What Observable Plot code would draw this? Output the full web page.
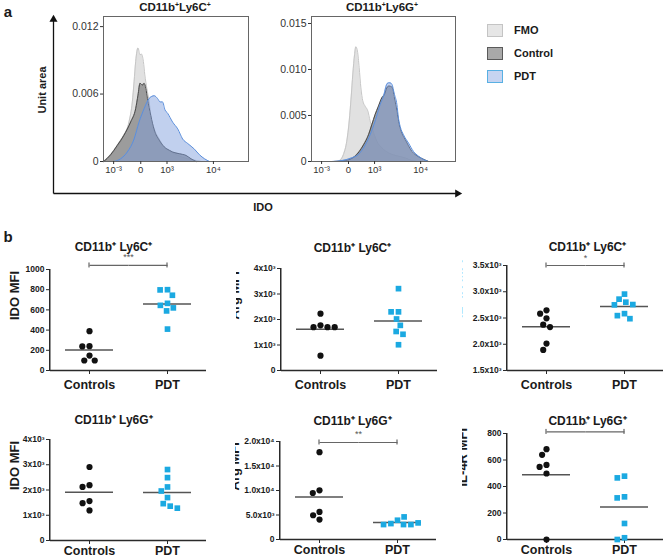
<!DOCTYPE html>
<html><head><meta charset="utf-8">
<script src="https://cdn.jsdelivr.net/npm/d3@7"></script>
<script src="https://cdn.jsdelivr.net/npm/@observablehq/plot@0.6"></script>
<style>
body{margin:0;background:#fff;}
#root{position:relative;width:669px;height:557px;overflow:hidden;font-family:"Liberation Sans",Arial,Helvetica,sans-serif;color:#1a1a1a;}
.lbl{position:absolute;font-weight:bold;white-space:nowrap;line-height:1;}
.rot{transform:translate(-50%,-50%) rotate(-90deg);}
sup{font-size:60%;vertical-align:0.55em;line-height:0;}
.swatch{position:absolute;width:14px;height:11px;border:1px solid;}
</style></head><body><div id="root"></div>
<script>
// ---------- DATA ----------
const categories = ["Controls", "PDT"];
const legendLabels = ["FMO", "Control", "PDT"];
// histogram x axis (display units across the frame) and its tick labels
const histTicks = [7, 25.7, 43.8, 75.8];
const histTickLabels = ["10⁻³", "0", "10³", "10⁴"];
// CD11b+Ly6C+ histograms
const ly6cFmoX = [0.2, 4.9, 9.5, 14.1, 17.6, 19.9, 21.1, 22.2, 23.8, 25.2, 26.2, 27.5, 28.5, 29.9, 31.5, 32.6, 35, 38.4, 41.9, 46.5, 51.2, 58.1, 65, 67.4];
const ly6cFmoY = [0, 0.00054, 0.00128, 0.00233, 0.00352, 0.00531, 0.0071, 0.0089, 0.0101, 0.0095, 0.00955, 0.0089, 0.0077, 0.0065, 0.0053, 0.0041, 0.0029, 0.002, 0.0013, 0.00084, 0.00054, 0.00024, 0.00006, 0];
const ly6cCtrlX = [0.2, 4.9, 9.5, 14.1, 18.75, 22.2, 23.8, 25.2, 26.9, 28, 29.2, 30.3, 32.6, 35, 38.4, 41.9, 45.4, 47.7, 52.3, 56.9, 60.4, 63.9];
const ly6cCtrlY = [0, 0.0006, 0.00143, 0.00233, 0.00352, 0.0047, 0.0059, 0.00696, 0.0068, 0.00696, 0.0065, 0.0056, 0.0041, 0.0028, 0.0019, 0.0013, 0.001, 0.00084, 0.00069, 0.00054, 0.00024, 0];
const ly6cPdtX = [7.2, 11.8, 16.4, 21.1, 24.5, 28, 31.5, 35, 37.3, 39.1, 40.7, 42.4, 44.2, 47.7, 51.2, 54.6, 58.1, 62.7, 66.2, 69.7, 73.1];
const ly6cPdtY = [0, 0.00024, 0.00084, 0.002, 0.0035, 0.0047, 0.0056, 0.00585, 0.0056, 0.0053, 0.0053, 0.0046, 0.0043, 0.0035, 0.0029, 0.002, 0.0016, 0.0011, 0.0006, 0.00024, 0];
// CD11b+Ly6G+ histograms
const ly6gFmoX = [18.75, 22.2, 24.5, 26.2, 27.5, 28.7, 29.9, 30.8, 31.9, 33.1, 34.3, 35.6, 37.3, 39.1, 40.7, 42.4, 45.4, 48.8, 53.5, 60.4, 65, 69.7, 74.3];
const ly6gFmoY = [0, 0.00076, 0.0022, 0.0044, 0.0069, 0.0095, 0.0116, 0.01246, 0.012, 0.0102, 0.008, 0.0066, 0.006, 0.0055, 0.0044, 0.0035, 0.0022, 0.0015, 0.00094, 0.00058, 0.0004, 0.0001, 0];
const ly6gCtrlX = [15.3, 23.4, 30.3, 36.1, 39.6, 41.9, 44.2, 46.5, 48.8, 50.7, 52.3, 53.9, 55.8, 57.6, 59.3, 60.9, 62.7, 65, 67.4, 69.7, 72, 76.6, 81.3];
const ly6gCtrlY = [0, 0.0001, 0.00058, 0.0018, 0.0029, 0.004, 0.0051, 0.006, 0.0069, 0.0073, 0.008, 0.0082, 0.0081, 0.0069, 0.0055, 0.004, 0.0031, 0.0024, 0.0017, 0.0011, 0.00076, 0.00033, 0];
const ly6gPdtX = [14.1, 21.1, 28, 32.6, 37.3, 40.7, 44.2, 47.7, 50, 52.3, 53.5, 54.6, 55.8, 57.6, 59.3, 60.4, 61.6, 63.9, 67.4, 70.8, 74.3, 77.8, 81.3];
const ly6gPdtY = [0, 0.0001, 0.0004, 0.00076, 0.0018, 0.0029, 0.0044, 0.0062, 0.0071, 0.0084, 0.00855, 0.00855, 0.0084, 0.0073, 0.0062, 0.0047, 0.0038, 0.0029, 0.002, 0.0011, 0.00058, 0.00022, 0];
// panel b: MFI values
const idoLy6cControls = [389, 241, 238, 148, 99, 99];
const idoLy6cPdt = [800, 798, 745, 665, 645, 620, 590, 410];
const argLy6cControls = [2230, 1770, 1700, 1700, 1700, 580];
const argLy6cPdt = [3210, 2300, 2300, 2020, 1770, 1530, 1420, 1010];
const il4rLy6cControls = [2647, 2583, 2494, 2372, 2327, 2013, 1891];
const il4rLy6cPdt = [2955, 2859, 2801, 2756, 2750, 2583, 2545, 2487];
const idoLy6gControls = [2910, 2190, 2120, 1560, 1480, 1190];
const idoLy6gPdt = [2810, 2490, 2120, 1960, 1700, 1460, 1360, 1280];
const argLy6gControls = [17830, 10030, 9490, 5630, 4950, 4070];
const argLy6gPdt = [3930, 3250, 3050, 4610, 3050, 3050, 3390];
const il4rLy6gControls = [682, 639, 563, 548, 498, 0];
const il4rLy6gPdt = [478, 465, 322, 314, 121, 13, 0];
// y tick values
const ticksIdoLy6c = [0, 200, 400, 600, 800, 1000];
const ticks4k = [0, 1000, 2000, 3000, 4000];
const ticksIl4rLy6c = [1500, 2000, 2500, 3000, 3500];
const ticksArgLy6g = [0, 5000, 10000, 15000, 20000];
const ticksIl4rLy6g = [0, 200, 400, 600, 800];

// ---------- HELPERS ----------
const FONT = '"Liberation Sans", Arial, Helvetica, sans-serif';
const root = document.getElementById("root");
function put(el, left, top) { el.style.position = "absolute"; el.style.left = left + "px"; el.style.top = top + "px"; root.appendChild(el); return el; }
// centered (or left-aligned) HTML label placed without CSS transforms
function label(html, x, y, size, align = "center") {
  const d = document.createElement("div");
  d.className = "lbl"; d.innerHTML = html; d.style.fontSize = size + "px";
  if (align === "center") { d.style.left = (x - 100) + "px"; d.style.width = "200px"; d.style.textAlign = "center"; }
  else d.style.left = x + "px";
  d.style.top = (y - size * 0.5) + "px";
  root.appendChild(d); return d;
}
const zip = (xs, ys) => xs.map((x, i) => ({x, y: ys[i]}));
const sci = (v) => v === 0 ? "0" : (v / 1000) + "x10³";
const sci1 = (v) => v === 0 ? "0" : (v / 1000).toFixed(1) + "x10³";
const sci5 = (v) => v === 0 ? "0" : (v < 10000 ? (v / 1000).toFixed(1) + "x10³" : (v / 10000).toFixed(1) + "x10⁴");

// ---------- PANEL a ----------
function hist(fmo, ctrl, pdt, yMax, yTicks, ML, MR, width) {
  return Plot.plot({
    width, height: 185, marginLeft: ML, marginRight: MR, marginTop: 16, marginBottom: 24,
    style: {background: "transparent", fontFamily: FONT, color: "#333"},
    x: {domain: [0, 100]},
    y: {domain: [0, yMax]},
    marks: [
      Plot.areaY(fmo, {x: "x", y: "y", fill: "#dcdcdc", fillOpacity: 0.85, curve: "monotone-x"}),
      Plot.lineY(fmo, {x: "x", y: "y", stroke: "#c6c6c6", strokeWidth: 1, curve: "monotone-x"}),
      Plot.areaY(ctrl, {x: "x", y: "y", fill: "#888", fillOpacity: 0.78, curve: "monotone-x"}),
      Plot.lineY(ctrl, {x: "x", y: "y", stroke: "#4a4a4a", strokeWidth: 1, curve: "monotone-x"}),
      Plot.areaY(pdt, {x: "x", y: "y", fill: "#7e9cdc", fillOpacity: 0.48, curve: "monotone-x"}),
      Plot.lineY(pdt, {x: "x", y: "y", stroke: "#5b8fdc", strokeWidth: 1, curve: "monotone-x"}),
      Plot.frame({stroke: "#666", strokeWidth: 1}),
      Plot.axisY({ticks: yTicks, tickFormat: d => d === 0 ? "0" : d3.format(".3f")(d), tickSize: 3, tickPadding: 2, fontSize: 10.5, label: null}),
      Plot.axisX({ticks: histTicks, tickFormat: d => histTickLabels[histTicks.indexOf(d)], tickSize: 3, tickPadding: 2, fontSize: 9.5, label: null})
    ]
  });
}
put(hist(zip(ly6cFmoX, ly6cFmoY), zip(ly6cCtrlX, ly6cCtrlY), zip(ly6cPdtX, ly6cPdtY), 0.0129, [0, 0.006, 0.012], 103, 12, 260), 0, 0);
put(hist(zip(ly6gFmoX, ly6gFmoY), zip(ly6gCtrlX, ly6gCtrlY), zip(ly6gPdtX, ly6gPdtY), 0.01576, [0, 0.005, 0.010, 0.015], 51, 5, 200), 260, 0);

// axis arrows of panel a
const arrows = Plot.plot({
  width: 470, height: 200, marginLeft: 53, marginRight: 13, marginTop: 19, marginBottom: 7,
  x: {domain: [0, 1], axis: null}, y: {domain: [0, 1], axis: null},
  style: {background: "transparent"},
  marks: [
    Plot.link([{x1: 0, y1: 0, x2: 1, y2: 0}, {x1: 0, y1: 0, x2: 0, y2: 1}], {x1: "x1", y1: "y1", x2: "x2", y2: "y2", stroke: "#111", strokeWidth: 1.3}),
    Plot.dot([{x: 1, y: 0, a: 90}, {x: 0, y: 1, a: 0}], {x: "x", y: "y", rotate: "a", symbol: "triangle", r: 3, fill: "#111"})
  ]
});
put(arrows, 0, 0);

label("a", 8, 11, 15);
label("CD11b<sup>+</sup>Ly6C<sup>+</sup>", 175, 8, 11.5);
label("CD11b<sup>+</sup>Ly6G<sup>+</sup>", 382, 8, 11.5);
{
  const u = document.createElement("div");
  u.className = "lbl rot"; u.textContent = "Unit area"; u.style.fontSize = "11px";
  u.style.left = "42px"; u.style.top = "90px"; root.appendChild(u);
}
label("IDO", 263, 207, 11);
const legendFill = ["#e6e6e6", "#a9a9a9", "#c6d4f1"];
const legendStroke = ["#c4c4c4", "#5a5a5a", "#58b0e3"];
legendLabels.forEach((lab, i) => {
  const s = document.createElement("div"); s.className = "swatch";
  s.style.background = legendFill[i]; s.style.borderColor = legendStroke[i];
  put(s, 487, 24 + i * 23);
  label(lab, 514, 30 + i * 23, 11, "left");
});
label("b", 8, 236, 15);

// ---------- PANEL b: scatter plots ----------
function scatter(o) {
  const ctrl = o.c.map(v => ({g: categories[0], v}));
  const pdt = o.p.map(v => ({g: categories[1], v}));
  const all = ctrl.concat(pdt);
  const ML = 45, band = 78, MR = 4;
  const frameH = o.frameBottom - o.frameTop;
  const capHalf = (o.yDomain[1] - o.yDomain[0]) * 2.5 / frameH;
  const yAxisLine = [{g: categories[0], x: 0, y1: o.yDomain[0], y2: o.yDomain[1]}];
  const titleRow = [{g: categories[0], x: 1, t: o.title}];
  const ylabRow = [{g: categories[0], t: o.ylabel}];
  const marks = [
    Plot.ruleY([o.yDomain[0]], {stroke: "#2a2a2a", strokeWidth: 1.5}),
    Plot.rect(yAxisLine, {fx: "g", x1: "x", x2: "x", y1: "y1", y2: "y2", insetLeft: -1, insetRight: -0.5, fill: "#2a2a2a"}),
    Plot.axisY({ticks: o.ticks, tickFormat: o.fmt, tickSize: 4, tickPadding: 2, fontSize: 8.5, fontWeight: "bold", label: null, stroke: "#2a2a2a"}),
    Plot.axisFx({anchor: "bottom", tickSize: 4, tickPadding: o.pad, fontSize: 12.5, fontWeight: "bold", label: null, stroke: "#2a2a2a"}),
    Plot.tickY(all, Plot.groupZ({y: "mean"}, {fx: "g", y: "v", stroke: "#555", strokeWidth: 1.5, insetLeft: 15, insetRight: 15})),
    Plot.dot(ctrl, Plot.dodgeX("middle", {fx: "g", y: "v", r: 3.1, padding: 0, fill: "#111", symbol: "circle"})),
    Plot.dot(pdt, Plot.dodgeX("middle", {fx: "g", y: "v", r: 3.2, padding: 0, fill: "#1ba9e1", symbol: "square"})),
    Plot.text(titleRow, {fx: "g", x: "x", frameAnchor: "top", text: "t", dx: o.titleX - (o.axisX + band), dy: o.titleY - o.frameTop, fontSize: 12, fontWeight: "bold", fill: "#1a1a1a"}),
    Plot.text(ylabRow, {fx: "g", frameAnchor: "left", text: "t", rotate: -90, dx: o.ylabX - o.axisX, fontSize: 13, fontWeight: "bold", fill: "#1a1a1a"})
  ];
  if (o.sig) {
    const bracket = [{g: categories[0], x1: 0.5, x2: 1, y: o.sigY}, {g: categories[1], x1: 0, x2: 0.5, y: o.sigY}];
    const caps = categories.map(g => ({g, x: 0.5, y1: o.sigY - capHalf, y2: o.sigY + capHalf}));
    const star = [{g: categories[0], x: 1, y: o.sigY, s: o.sig}];
    marks.push(
      Plot.link(bracket, {fx: "g", x1: "x1", x2: "x2", y1: "y", y2: "y", stroke: "#666", strokeWidth: 1.2}),
      Plot.rect(caps, {fx: "g", x1: "x", x2: "x", y1: "y1", y2: "y2", insetLeft: -0.6, insetRight: -0.6, fill: "#666"}),
      Plot.text(star, {fx: "g", x: "x", y: "y", text: "s", dy: -5, lineAnchor: "bottom", fontSize: 9, fill: "#555"})
    );
  }
  const plot = Plot.plot({
    width: ML + 2 * band + MR, height: o.mTop + frameH + o.mBottom,
    marginLeft: ML, marginRight: MR, marginTop: o.mTop, marginBottom: o.mBottom,
    style: {background: "transparent", fontFamily: FONT, color: "#1a1a1a"},
    fx: {domain: categories, padding: 0, label: null},
    x: {domain: [0, 1], axis: null},
    y: {domain: o.yDomain},
    marks
  });
  put(plot, o.axisX - ML, o.frameTop - o.mTop);
}

const ly6c = "CD11b⁺ Ly6C⁺";
const ly6g = "CD11b⁺ Ly6G⁺";
scatter({c: idoLy6cControls, p: idoLy6cPdt, yDomain: [0, 1000], ticks: ticksIdoLy6c, fmt: d => String(d),
  axisX: 50, frameTop: 269, frameBottom: 370, mTop: 42, mBottom: 25, pad: 6, sig: "***", sigY: 1040,
  title: ly6c, titleX: 113, titleY: 242, ylabel: "IDO MFI", ylabX: 14});
scatter({c: argLy6cControls, p: argLy6cPdt, yDomain: [0, 4000], ticks: ticks4k, fmt: sci,
  axisX: 281, frameTop: 268, frameBottom: 370, mTop: 41, mBottom: 25, pad: 6,
  title: ly6c, titleX: 352, titleY: 243, ylabel: "Arg MFI", ylabX: 234});
scatter({c: il4rLy6cControls, p: il4rLy6cPdt, yDomain: [1500, 3500], ticks: ticksIl4rLy6c, fmt: sci1,
  axisX: 507, frameTop: 265, frameBottom: 370, mTop: 38, mBottom: 25, pad: 6, sig: "*", sigY: 3500,
  title: ly6c, titleX: 587, titleY: 242, ylabel: "IL-4R MFI", ylabX: 457});
scatter({c: idoLy6gControls, p: idoLy6gPdt, yDomain: [0, 4000], ticks: ticks4k, fmt: sci,
  axisX: 50, frameTop: 439, frameBottom: 540, mTop: 40, mBottom: 17, pad: 1.5,
  title: ly6g, titleX: 113, titleY: 415, ylabel: "IDO MFI", ylabX: 14});
scatter({c: argLy6gControls, p: argLy6gPdt, yDomain: [0, 20000], ticks: ticksArgLy6g, fmt: sci5,
  axisX: 280, frameTop: 441, frameBottom: 539, mTop: 42, mBottom: 18, pad: 1.5, sig: "**", sigY: 19800,
  title: ly6g, titleX: 352, titleY: 416, ylabel: "Arg MFI", ylabX: 234});
scatter({c: il4rLy6gControls, p: il4rLy6gPdt, yDomain: [0, 800], ticks: ticksIl4rLy6g, fmt: d => String(d),
  axisX: 507, frameTop: 433, frameBottom: 539, mTop: 34, mBottom: 18, pad: 1.5, sig: "*", sigY: 812,
  title: ly6g, titleX: 587, titleY: 416, ylabel: "IL-4R MFI", ylabX: 462});
</script></body></html>
